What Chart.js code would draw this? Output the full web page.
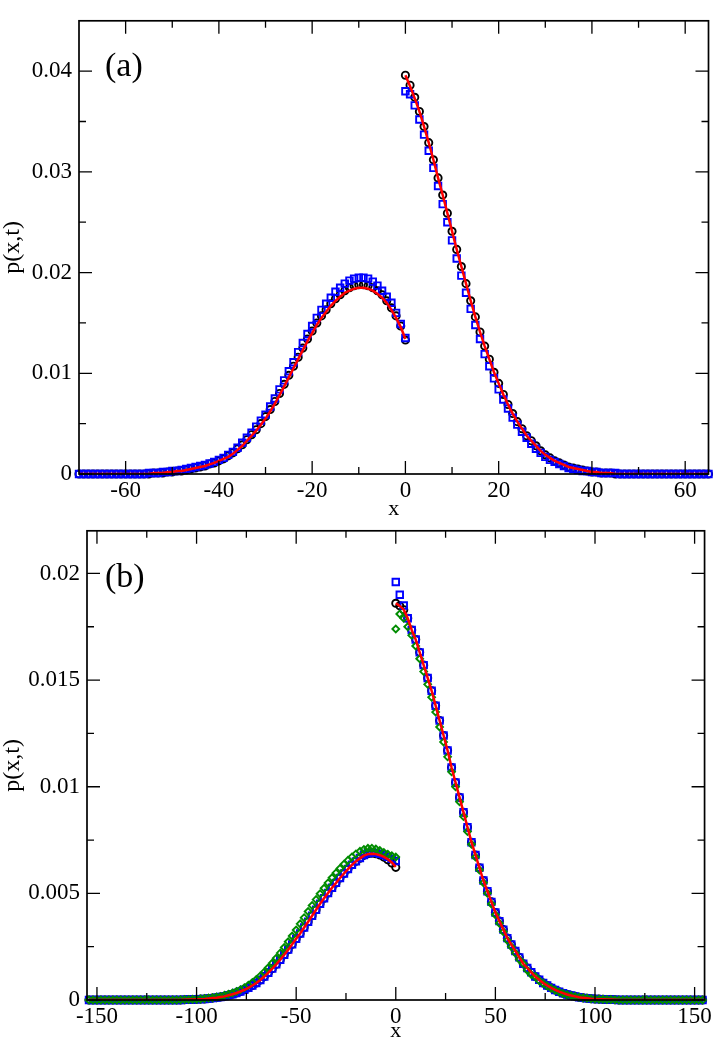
<!DOCTYPE html>
<html>
<head>
<meta charset="utf-8">
<script src="https://cdn.jsdelivr.net/npm/chart.js@4"></script>
<style>
  body { margin: 0; background: #fff; }
  canvas { position: absolute; left: 0; }
</style>
</head>
<body>
<canvas id="top" width="715" height="525" style="top:0"></canvas>
<canvas id="bot" width="715" height="534" style="top:510px"></canvas>
<script>
// panel (a): x grid left of the jump and right of it
var topXL = [-70,-69,-68,-67,-66,-65,-64,-63,-62,-61,-60,-59,-58,-57,-56,-55,-54,-53,-52,-51,-50,-49,-48,-47,-46,-45,-44,-43,-42,-41,-40,-39,-38,-37,-36,-35,-34,-33,-32,-31,-30,-29,-28,-27,-26,-25,-24,-23,-22,-21,-20,-19,-18,-17,-16,-15,-14,-13,-12,-11,-10,-9,-8,-7,-6,-5,-4,-3,-2,-1,0];
var topXR = [0,1,2,3,4,5,6,7,8,9,10,11,12,13,14,15,16,17,18,19,20,21,22,23,24,25,26,27,28,29,30,31,32,33,34,35,36,37,38,39,40,41,42,43,44,45,46,47,48,49,50,51,52,53,54,55,56,57,58,59,60,61,62,63,64,65];

// red line (a)
var redTopL = [0,0,0,0,0,0,0,0,0,0,0,0,0,0,0,0,
  0.0001,0.0001,0.0001,0.0002,0.0002,0.0003,0.0003,0.0004,0.0005,0.0006,0.0007,0.0008,0.00095,0.0011,0.0013,0.0015,0.0017,0.0020,0.0024,0.0028,
  0.0033,0.0038,0.0043,0.0049,0.0055,0.0062,0.0070,0.0078,0.0087,0.0096,0.0105,0.0114,0.0123,0.0132,0.0140,0.0148,0.0155,0.0161,0.0167,0.0172,
  0.0176,0.0180,0.0182,0.0184,0.0185,0.0185,0.0184,0.0182,0.0179,0.0175,0.0170,0.0163,0.0155,0.0146,0.0134];
var redTopR = [0.0396,0.0385,0.0373,0.0360,0.0345,0.0329,0.0312,0.0294,0.0277,0.0259,
  0.0241,0.0223,0.0206,0.0189,0.0172,0.0156,0.0141,0.0127,0.0114,0.0101,
  0.0090,0.0079,0.0069,0.0060,0.0052,0.0045,0.0038,0.0033,0.0028,0.0023,
  0.0019,0.0016,0.0013,0.0011,0.0009,0.0007,0.0006,0.0005,0.0004,0.0003,
  0.0002,0.0002,0.0001,0.0001,0.0001,0,0,0,0,0,
  0,0,0,0,0,0,0,0,0,0,0,0,0,0,0,0];

// black circles (a)
var blackTopL = [0,0,0,0,0,0,0,0,0,0,0,0,0,0,0,0,
  0.0001,0.0001,0.0001,0.0002,0.0002,0.0003,0.0003,0.0004,0.0005,0.0006,0.0007,0.0008,0.0010,0.0011,0.0013,0.0015,0.0018,0.0021,0.0025,0.0029,
  0.0034,0.0039,0.0044,0.0050,0.0057,0.0064,0.0072,0.0080,0.0089,0.0098,0.0107,0.0116,0.0125,0.0134,0.0142,0.0150,0.0157,0.0163,0.0169,0.0174,
  0.0178,0.0182,0.0185,0.0187,0.0188,0.0188,0.0187,0.0185,0.0182,0.0178,0.0172,0.0165,0.0157,0.0147,0.0133];
var blackTopR = [0.0396,0.0386,0.0374,0.0360,0.0345,0.0329,0.0312,0.0294,0.0277,0.0259,
  0.0241,0.0223,0.0206,0.0189,0.0172,0.0156,0.0141,0.0127,0.0114,0.0101,
  0.0090,0.0079,0.0069,0.0060,0.0052,0.0045,0.0038,0.0033,0.0028,0.0023,
  0.0019,0.0016,0.0013,0.0011,0.0009,0.0007,0.0006,0.0005,0.0004,0.0003,
  0.0002,0.0002,0.0001,0.0001,0.0001,0,0,0,0,0,
  0,0,0,0,0,0,0,0,0,0,0,0,0,0,0,0];

// blue squares (a)
var blueTopL = [0,0,0,0,0,0,0,0,0,0,0,0,0,0,0,0.0001,
  0.0001,0.0001,0.0002,0.0002,0.0003,0.0003,0.0004,0.0005,0.0006,0.0007,0.0008,0.0009,0.00105,0.0012,0.0014,0.0016,0.0019,0.0022,0.0026,0.0031,
  0.0036,0.0041,0.0047,0.0053,0.0059,0.0067,0.0075,0.0084,0.0093,0.0102,0.0111,0.0121,0.0130,0.0139,0.0147,0.0155,0.0163,0.0169,0.0175,0.0181,
  0.0185,0.0189,0.0192,0.0194,0.0195,0.0195,0.0194,0.0191,0.0187,0.0182,0.0176,0.0170,0.0160,0.0149,0.0135];
var blueTopR = [0.0380,0.0377,0.0366,0.0352,0.0337,0.0321,0.0304,0.0286,0.0268,0.0250,
  0.0232,0.0214,0.0197,0.0180,0.0164,0.0148,0.0134,0.0119,0.0107,0.0095,
  0.0084,0.0074,0.0065,0.0056,0.0049,0.0042,0.0036,0.0030,0.0025,0.0021,
  0.0017,0.0014,0.0012,0.0010,0.0008,0.0006,0.0005,0.0004,0.0003,0.0003,
  0.0002,0.0002,0.0001,0.0001,0.0001,0.0001,0,0,0,0,
  0,0,0,0,0,0,0,0,0,0,0,0,0,0,0,0];

// panel (b): x grid, step 2
var botXL = [-154,-152,-150,-148,-146,-144,-142,-140,-138,-136,-134,-132,-130,-128,-126,-124,-122,-120,-118,-116,-114,-112,-110,-108,-106,-104,-102,-100,-98,-96,-94,-92,-90,-88,-86,-84,-82,-80,-78,-76,-74,-72,-70,-68,-66,-64,-62,-60,-58,-56,-54,-52,-50,-48,-46,-44,-42,-40,-38,-36,-34,-32,-30,-28,-26,-24,-22,-20,-18,-16,-14,-12,-10,-8,-6,-4,-2,0];
var botXR = [0,2,4,6,8,10,12,14,16,18,20,22,24,26,28,30,32,34,36,38,40,42,44,46,48,50,52,54,56,58,60,62,64,66,68,70,72,74,76,78,80,82,84,86,88,90,92,94,96,98,100,102,104,106,108,110,112,114,116,118,120,122,124,126,128,130,132,134,136,138,140,142,144,146,148,150,152,154];

// red line (b)
var redBotL = [0,0,0,0,0,0,0,0,0,0,0,0,0,0,0,0,0,0,0,0,0,0,0,0,
  0.00001,0.00002,0.00002,0.00003,0.00004,0.00005,0.00007,0.00009,0.00011,0.00014,
  0.00017,0.00022,0.00027,0.00033,0.00040,0.00048,0.00057,0.00068,0.00080,0.00094,
  0.00110,0.00128,0.00147,0.00167,0.00189,0.00212,0.00236,0.00261,0.00287,0.00312,
  0.00340,0.00367,0.00395,0.00423,0.00451,0.00477,0.00502,0.00526,0.00549,0.00572,
  0.00593,0.00614,0.00634,0.00650,0.00664,0.00677,0.00684,0.00686,0.00684,0.00679,
  0.00671,0.00660,0.00645,0.00624];
var redBotR = [0.0186,0.01848,0.0183,0.0179,0.01735,0.0169,0.0163,0.0157,0.0151,0.0145,
  0.0138,0.0131,0.0124,0.0117,0.0109,0.0102,0.0095,0.0088,0.0081,0.0074,
  0.0068,0.0062,0.0056,0.0051,0.0046,0.0041,0.0037,0.0033,0.0029,0.0026,
  0.0023,0.0020,0.0017,0.0015,0.0013,0.0011,0.00095,0.0008,0.00068,0.00057,
  0.00047,0.00039,0.00032,0.00026,0.00021,0.00017,0.00013,0.0001,0.00008,0.00006,
  0.00005,0.00004,0.00003,0.00002,0.00002,0.00001,
  0,0,0,0,0,0,0,0,0,0,0,0,0,0,0,0,0,0,0,0,0,0];

// black circles (b)
var blackBotL = [0,0,0,0,0,0,0,0,0,0,0,0,0,0,0,0,0,0,0,0,0,0,0,0,
  0.00001,0.00002,0.00002,0.00003,0.00004,0.00005,0.00007,0.00009,0.00011,0.00014,
  0.00017,0.00022,0.00027,0.00033,0.00040,0.00048,0.00057,0.00068,0.00080,0.00094,
  0.00110,0.00128,0.00147,0.00167,0.00189,0.00212,0.00236,0.00261,0.00287,0.00312,
  0.00340,0.00367,0.00395,0.00423,0.00451,0.00477,0.00502,0.00526,0.00549,0.00572,
  0.00593,0.00614,0.00634,0.00651,0.00665,0.00678,0.00686,0.00688,0.00686,0.00680,
  0.00670,0.00658,0.00642,0.00622];
var blackBotR = [0.0186,0.01848,0.0183,0.0179,0.01735,0.0169,0.0163,0.0157,0.0151,0.0145,
  0.0138,0.0131,0.0124,0.0117,0.0109,0.0102,0.0095,0.0088,0.0081,0.0074,
  0.0068,0.0062,0.0056,0.0051,0.0046,0.0041,0.0037,0.0033,0.0029,0.0026,
  0.0023,0.0020,0.0017,0.0015,0.0013,0.0011,0.00095,0.0008,0.00068,0.00057,
  0.00047,0.00039,0.00032,0.00026,0.00021,0.00017,0.00013,0.0001,0.00008,0.00006,
  0.00005,0.00004,0.00003,0.00002,0.00002,0.00001,
  0,0,0,0,0,0,0,0,0,0,0,0,0,0,0,0,0,0,0,0,0,0];

// blue squares (b)
var blueBotL = [0,0,0,0,0,0,0,0,0,0,0,0,0,0,0,0,0,0,0,0,0,0,0,0,
  0.00001,0.00002,0.00002,0.00003,0.00004,0.00005,0.00007,0.00009,0.00011,0.00014,
  0.00017,0.00022,0.00027,0.00033,0.00040,0.00048,0.00057,0.00068,0.00080,0.00094,
  0.00110,0.00128,0.00147,0.00167,0.00189,0.00212,0.00236,0.00261,0.00287,0.00312,
  0.00340,0.00367,0.00395,0.00423,0.00451,0.00477,0.00502,0.00526,0.00549,0.00572,
  0.00593,0.00614,0.00634,0.00650,0.00666,0.00680,0.00688,0.00690,0.00690,0.00686,
  0.00680,0.00671,0.00662,0.00652];
var blueBotR = [0.0196,0.0190,0.0185,0.0179,0.01735,0.0169,0.0163,0.0157,0.0151,0.0145,
  0.0138,0.0131,0.0124,0.0117,0.0109,0.0102,0.0095,0.0088,0.0081,0.0074,
  0.0068,0.0062,0.0056,0.0051,0.0046,0.0041,0.0037,0.0033,0.0029,0.0026,
  0.0023,0.0020,0.0017,0.0015,0.0013,0.0011,0.00095,0.0008,0.00068,0.00057,
  0.00047,0.00039,0.00032,0.00026,0.00021,0.00017,0.00013,0.0001,0.00008,0.00006,
  0.00005,0.00004,0.00003,0.00002,0.00002,0.00001,
  0,0,0,0,0,0,0,0,0,0,0,0,0,0,0,0,0,0,0,0,0,0];

// green diamonds (b)
var greenBotL = [0,0,0,0,0,0,0,0,0,0,0,0,0,0,0,0,0,0,0,0,0,0,0,
  0.00001,0.00002,0.00002,0.00003,0.00004,0.00005,0.00007,0.00009,0.00011,0.00014,
  0.00017,0.00022,0.00027,0.00033,0.00040,0.00048,0.00058,0.00069,0.00082,0.00096,
  0.00113,0.00131,0.00151,0.00173,0.00196,0.00220,0.00246,0.00273,0.00300,0.00328,
  0.00357,0.00386,0.00415,0.00443,0.00471,0.00498,0.00524,0.00549,0.00573,0.00596,
  0.00617,0.00637,0.00655,0.00671,0.00685,0.00697,0.00706,0.00711,0.00712,0.00708,
  0.00701,0.00692,0.00683,0.00676,0.00670];
var greenBotR = [0.0174,0.0181,0.0179,0.0175,0.0171,0.0166,0.0160,0.0154,0.0148,0.0142,
  0.0135,0.0128,0.0121,0.0114,0.0107,0.0100,0.0093,0.0086,0.0079,0.0073,
  0.0067,0.0061,0.0055,0.0050,0.0045,0.0040,0.0036,0.0032,0.0028,0.0025,
  0.0022,0.0019,0.0017,0.0014,0.0012,0.0011,0.0009,0.00078,0.00066,0.00055,
  0.00046,0.00038,0.00031,0.00025,0.0002,0.00016,0.00013,0.0001,0.00008,0.00006,
  0.00005,0.00004,0.00003,0.00002,0.00002,0.00001,
  0,0,0,0,0,0,0,0,0,0,0,0,0,0,0,0,0,0,0,0,0,0];

// tick labels
var topXTicks = [-60,-40,-20,0,20,40,60];
var topYTicks = [0,0.01,0.02,0.03,0.04];
var botXTicks = [-150,-100,-50,0,50,100,150];
var botYTicks = [0,0.005,0.01,0.015,0.02];

var SERIF = '"Liberation Serif", "DejaVu Serif", serif';

function pts(xs, ys) {
  return xs.map(function(x, i){ return {x: x, y: ys[i]}; });
}

// frame box, inward major/minor ticks on all four sides, panel letter
var frame = {
  id: 'frame',
  afterDatasetsDraw: function(chart, args, o) {
    var ctx = chart.ctx, a = chart.chartArea;
    ctx.save();
    ctx.strokeStyle = '#000';
    ctx.lineWidth = 1.3;
    function mark(s, v, len) {
      var p = s.getPixelForValue(v);
      ctx.beginPath();
      if (s.isHorizontal()) {
        ctx.moveTo(p, a.bottom); ctx.lineTo(p, a.bottom - len);
        ctx.moveTo(p, a.top); ctx.lineTo(p, a.top + len);
      } else {
        ctx.moveTo(a.left, p); ctx.lineTo(a.left + len, p);
        ctx.moveTo(a.right, p); ctx.lineTo(a.right - len, p);
      }
      ctx.stroke();
    }
    [chart.scales.x, chart.scales.y].forEach(function(s){
      var t = s.ticks.map(function(k){ return k.value; });
      var step = t[1] - t[0];
      t.forEach(function(v){ mark(s, v, 13); });
      for (var v = t[0] - step / 2; v < s.max; v += step) {
        if (v > s.min) mark(s, v, 7);
      }
    });
    ctx.lineWidth = 1.7;
    ctx.strokeRect(a.left, a.top, a.right - a.left, a.bottom - a.top);
    ctx.fillStyle = '#000';
    ctx.font = '34px ' + SERIF;
    ctx.textBaseline = 'alphabetic';
    ctx.fillText(o.label, a.left + o.dx, a.top + o.dy);
    ctx.restore();
  }
};

function lineSet(xs, ys) {
  return { data: pts(xs, ys), showLine: true, borderColor: '#ff0000', borderWidth: 2.5,
           pointRadius: 0, pointHoverRadius: 0, fill: false };
}
function markSet(xs1, ys1, xs2, ys2, style, color, r) {
  return { data: pts(xs1, ys1).concat(pts(xs2, ys2)), showLine: false, clip: false,
           pointStyle: style, pointRadius: r, pointHoverRadius: r,
           borderColor: color, backgroundColor: 'rgba(0,0,0,0)', pointBorderWidth: 1.9 };
}

function panel(id, o) {
  var tickFont = { family: SERIF, size: 23 };
  return new Chart(document.getElementById(id), {
    type: 'scatter',
    data: { datasets: o.datasets },
    options: {
      responsive: false,
      animation: false,
      devicePixelRatio: 1,
      layout: { padding: o.pad },
      plugins: {
        legend: { display: false },
        tooltip: { enabled: false },
        frame: { label: o.label, dx: o.ldx, dy: o.ldy }
      },
      scales: {
        x: {
          type: 'linear', min: o.xmin, max: o.xmax,
          afterBuildTicks: function(s){ s.ticks = o.xt.map(function(v){ return {value: v}; }); },
          afterFit: function(s){ s.height = o.xh; },
          grid: { display: false, drawTicks: false },
          border: { display: false },
          ticks: { font: tickFont, color: '#000', padding: 3, maxRotation: 0, autoSkip: false,
                   callback: function(v){ return String(v); } },
          title: { display: true, text: 'x', color: '#000', font: { family: SERIF, size: 22 },
                   padding: { top: 0, bottom: o.xtp } }
        },
        y: {
          type: 'linear', min: 0, max: o.ymax,
          afterBuildTicks: function(s){ s.ticks = o.yt.map(function(v){ return {value: v}; }); },
          afterFit: function(s){ s.width = o.yw; },
          grid: { display: false, drawTicks: false },
          border: { display: false },
          ticks: { font: tickFont, color: '#000', padding: 7, autoSkip: false,
                   callback: function(v){ return String(v); } },
          title: { display: true, text: 'p(x,t)', color: '#000', font: { family: SERIF, size: 24 },
                   padding: { top: -2, bottom: 0 } }
        }
      }
    },
    plugins: [frame]
  });
}

panel('top', {
  xmin: -70, xmax: 65, ymax: 0.045, xt: topXTicks, yt: topYTicks,
  pad: { top: 1, right: 4, left: 0, bottom: 0 }, yw: 79, xh: 51, xtp: 3,
  label: '(a)', ldx: 26, ldy: 55,
  datasets: [
    lineSet(topXL, redTopL),
    lineSet(topXR, redTopR),
    markSet(topXL, blueTopL, topXR, blueTopR, 'rect', '#0000ff', 4.6),
    markSet(topXL, blackTopL, topXR, blackTopR, 'circle', '#000000', 3.6)
  ]
});

panel('bot', {
  xmin: -155, xmax: 155, ymax: 0.022, xt: botXTicks, yt: botYTicks,
  pad: { top: 18, right: 9, left: 0, bottom: 0 }, yw: 87, xh: 44, xtp: 0,
  label: '(b)', ldx: 18, ldy: 56,
  datasets: [
    lineSet(botXL, redBotL),
    lineSet(botXR, redBotR),
    markSet(botXL, greenBotL, botXR, greenBotR, 'rectRot', '#008c00', 3.4),
    markSet(botXL, blueBotL, botXR, blueBotR, 'rect', '#0000ff', 4.6),
    markSet(botXL, blackBotL, botXR, blackBotR, 'circle', '#000000', 3.6)
  ]
});
</script>
</body>
</html>
